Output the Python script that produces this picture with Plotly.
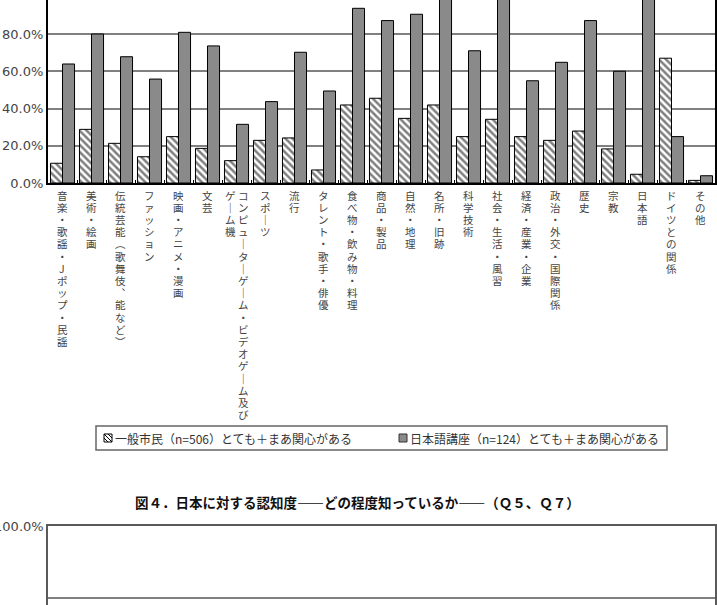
import plotly.graph_objects as go

W, H = 717, 605

categories = [
    "音楽・歌謡・Jポップ・民謡", "美術・絵画", "伝統芸能（歌舞伎、能など）", "ファッション",
    "映画・アニメ・漫画", "文芸", "コンピューターゲーム・ビデオゲーム及び\nゲーム機", "スポーツ",
    "流行", "タレント・歌手・俳優", "食べ物・飲み物・料理", "商品・製品", "自然・地理",
    "名所・旧跡", "科学技術", "社会・生活・風習", "経済・産業・企業", "政治・外交・国際関係",
    "歴史", "宗教", "日本語", "ドイツとの関係", "その他",
]
general_public = [10.6, 28.8, 21.3, 14.1, 24.9, 18.6, 12.0, 22.9, 24.2, 7.0, 41.9,
                  45.5, 34.7, 41.9, 24.9, 34.2, 24.9, 22.9, 27.9, 18.3, 4.7, 67.0, 1.4]
japanese_course = [63.9, 80.0, 67.8, 55.8, 80.9, 73.6, 31.5, 43.7, 70.2, 49.4, 93.8,
                   87.2, 90.6, 99.0, 71.0, 99.5, 54.9, 64.8, 87.2, 60.0, 99.5, 24.9, 3.9]
series_names = ["一般市民（n=506）とても＋まあ関心がある",
                "日本語講座（n=124）とても＋まあ関心がある"]
title2 = "図４．日本に対する認知度――どの程度知っているか――（Ｑ５、Ｑ７）"
top_ticks = [0, 20, 40, 60, 80, 100]
top_tick_text = ["0.0%", "20.0%", "40.0%", "60.0%", "80.0%", "100.0%"]
bottom_ticks = [80, 100]
bottom_tick_text = ["80.0%", "100.0%"]

VERT = {"ー": "｜", "（": "︵", "）": "︶", "、": "︑"}


def px(x):
    return x / W


def py(y):
    return 1 - y / H


fig = go.Figure()
fig.add_trace(go.Bar(
    x=categories, y=general_public, name=series_names[0], showlegend=False,
    marker=dict(color="#ffffff", line=dict(color="#000000", width=1),
                pattern=dict(shape="\\", fgcolor="#000000", bgcolor="#ffffff",
                             size=5, solidity=0.5)),
))
fig.add_trace(go.Bar(
    x=categories, y=japanese_course, name=series_names[1], showlegend=False,
    marker=dict(color="#8a8a8a", line=dict(color="#000000", width=1)),
))
# empty trace so that the second (partly visible) chart frame is drawn
fig.add_trace(go.Scatter(x=[], y=[], xaxis="x2", yaxis="y2", mode="markers",
                         showlegend=False, hoverinfo="skip"))

axis_font = dict(family="DejaVu Sans", size=13, color="#444444")

fig.update_layout(
    width=W, height=H,
    margin=dict(l=0, r=0, t=0, b=0),
    paper_bgcolor="white", plot_bgcolor="white",
    barmode="group", bargap=0.17, bargroupgap=0.0,
    xaxis=dict(domain=[px(48), px(715)], anchor="y", type="category",
               showticklabels=False, showline=True, linecolor="#000000", linewidth=2,
               ticks="inside", tickson="boundaries", ticklen=3, tickcolor="#000000",
               showgrid=False),
    yaxis=dict(domain=[py(183), 1.0], anchor="x", range=[0, 183 / 1.8625],
               tickvals=top_ticks, ticktext=top_tick_text,
               tickfont=axis_font, showgrid=True, gridcolor="#808080", gridwidth=1.5,
               showline=True, linecolor="#000000", linewidth=2, mirror=True,
               zeroline=False, ticks="", automargin=False),
    xaxis2=dict(domain=[px(48), px(715)], anchor="y2", range=[0, 1],
                showticklabels=False, showgrid=False, zeroline=False,
                showline=True, linecolor="#5a5a5a", linewidth=1.5, mirror=True),
    yaxis2=dict(domain=[0, py(526)], anchor="x2", range=[100 - 79 / 3.6, 100],
                tickvals=bottom_ticks, ticktext=bottom_tick_text,
                tickfont=axis_font, showgrid=True, gridcolor="#808080", gridwidth=1.5,
                showline=True, linecolor="#5a5a5a", linewidth=1.5, mirror=True,
                zeroline=False, ticks="", automargin=False),
)

annotations = []
shapes = []

# vertical category labels: columns right to left, upright characters top to bottom
for cat in categories:
    cols = cat.split("\n")
    offsets = [0] if len(cols) == 1 else [6.5, -6.5]
    for col, off in zip(cols, offsets):
        for k, ch in enumerate(col):
            annotations.append(dict(
                x=cat, xref="x", y=0, yref="y", xanchor="center", yanchor="middle",
                xshift=off, yshift=-(12 + 12.2 * k), showarrow=False,
                text=VERT.get(ch, ch),
                font=dict(family="Noto Sans CJK JP", size=10.5, color="#444444"),
            ))

# legend box
shapes.append(dict(type="rect", xref="paper", yref="paper",
                   x0=px(96), x1=px(667), y0=py(450), y1=py(426),
                   line=dict(color="#666666", width=1.5), fillcolor="white", layer="above"))
# hatched symbol
shapes.append(dict(type="rect", xref="paper", yref="paper",
                   x0=px(104), x1=px(112), y0=py(442), y1=py(434),
                   line=dict(color="#000000", width=1), fillcolor="white", layer="above"))
for (a, b, c, d) in [(104, 434, 112, 442), (104, 438, 108, 442), (108, 434, 112, 438)]:
    shapes.append(dict(type="line", xref="paper", yref="paper",
                       x0=px(a), y0=py(b), x1=px(c), y1=py(d),
                       line=dict(color="#000000", width=1), layer="above"))
# gray symbol
shapes.append(dict(type="rect", xref="paper", yref="paper",
                   x0=px(399), x1=px(407), y0=py(442), y1=py(434),
                   line=dict(color="#333333", width=1), fillcolor="#8a8a8a", layer="above"))

legend_font = dict(family="Noto Sans CJK JP", size=12, color="#333333")
annotations.append(dict(x=px(113), y=py(438), xref="paper", yref="paper",
                        xanchor="left", yanchor="middle", showarrow=False,
                        text=series_names[0], font=legend_font))
annotations.append(dict(x=px(408), y=py(438), xref="paper", yref="paper",
                        xanchor="left", yanchor="middle", showarrow=False,
                        text=series_names[1], font=legend_font))

# second figure title
annotations.append(dict(x=px(357), y=py(502), xref="paper", yref="paper",
                        xanchor="center", yanchor="middle", showarrow=False,
                        text="<b>" + title2 + "</b>",
                        font=dict(family="Noto Sans CJK JP", size=13.5, color="#111111")))

fig.update_layout(annotations=annotations, shapes=shapes)
fig.write_html("out.html")
